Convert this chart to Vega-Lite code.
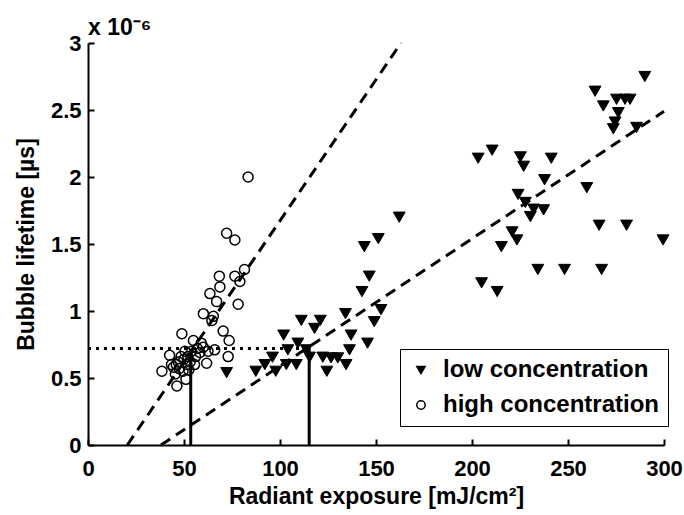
{
  "$schema": "https://vega.github.io/schema/vega-lite/v6.json",
  "width": 576,
  "height": 402,
  "autosize": {"type": "none"},
  "padding": {"left": 88, "top": 43, "right": 20, "bottom": 70},
  "background": "white",
  "config": {
    "view": {"stroke": null},
    "font": "Liberation Sans",
    "axis": {
      "grid": false,
      "domainColor": "black",
      "domainWidth": 2,
      "tickColor": "black",
      "tickWidth": 2,
      "tickSize": -6,
      "labelFont": "Liberation Sans",
      "labelFontSize": 22,
      "labelFontWeight": "bold",
      "labelColor": "black",
      "labelFlush": false,
      "labelOverlap": false,
      "titleFont": "Liberation Sans",
      "titleFontSize": 23,
      "titleFontWeight": "bold",
      "titleColor": "black"
    }
  },
  "title": {
    "text": "x 10⁻⁶",
    "anchor": "start",
    "frame": "group",
    "font": "Liberation Sans",
    "fontSize": 23,
    "fontWeight": "bold",
    "color": "black",
    "offset": -8
  },
  "datasets": {
    "points": [
      {"x": 38.5, "y": 0.55, "series": "high concentration"},
      {"x": 42.5, "y": 0.67, "series": "high concentration"},
      {"x": 43.5, "y": 0.6, "series": "high concentration"},
      {"x": 44.5, "y": 0.58, "series": "high concentration"},
      {"x": 45.5, "y": 0.53, "series": "high concentration"},
      {"x": 46, "y": 0.6, "series": "high concentration"},
      {"x": 46.3, "y": 0.44, "series": "high concentration"},
      {"x": 47, "y": 0.62, "series": "high concentration"},
      {"x": 47.5, "y": 0.57, "series": "high concentration"},
      {"x": 48.5, "y": 0.66, "series": "high concentration"},
      {"x": 48.9, "y": 0.83, "series": "high concentration"},
      {"x": 49.5, "y": 0.55, "series": "high concentration"},
      {"x": 50, "y": 0.64, "series": "high concentration"},
      {"x": 50.5, "y": 0.7, "series": "high concentration"},
      {"x": 51, "y": 0.49, "series": "high concentration"},
      {"x": 51.5, "y": 0.6, "series": "high concentration"},
      {"x": 52, "y": 0.66, "series": "high concentration"},
      {"x": 52.5, "y": 0.56, "series": "high concentration"},
      {"x": 53.2, "y": 0.62, "series": "high concentration"},
      {"x": 54, "y": 0.7, "series": "high concentration"},
      {"x": 54.9, "y": 0.78, "series": "high concentration"},
      {"x": 55.5, "y": 0.6, "series": "high concentration"},
      {"x": 56, "y": 0.66, "series": "high concentration"},
      {"x": 57, "y": 0.72, "series": "high concentration"},
      {"x": 58.3, "y": 0.69, "series": "high concentration"},
      {"x": 59, "y": 0.76, "series": "high concentration"},
      {"x": 60, "y": 0.73, "series": "high concentration"},
      {"x": 60.1, "y": 0.98, "series": "high concentration"},
      {"x": 61.8, "y": 0.61, "series": "high concentration"},
      {"x": 62.5, "y": 0.7, "series": "high concentration"},
      {"x": 63.5, "y": 1.13, "series": "high concentration"},
      {"x": 64.5, "y": 0.93, "series": "high concentration"},
      {"x": 65.3, "y": 0.96, "series": "high concentration"},
      {"x": 66, "y": 0.71, "series": "high concentration"},
      {"x": 67, "y": 1.07, "series": "high concentration"},
      {"x": 68.4, "y": 1.26, "series": "high concentration"},
      {"x": 68.7, "y": 1.18, "series": "high concentration"},
      {"x": 70.4, "y": 0.85, "series": "high concentration"},
      {"x": 73, "y": 0.66, "series": "high concentration"},
      {"x": 73.5, "y": 0.78, "series": "high concentration"},
      {"x": 72.2, "y": 1.58, "series": "high concentration"},
      {"x": 76.5, "y": 1.53, "series": "high concentration"},
      {"x": 76.5, "y": 1.26, "series": "high concentration"},
      {"x": 78.2, "y": 1.05, "series": "high concentration"},
      {"x": 79.1, "y": 1.22, "series": "high concentration"},
      {"x": 81.5, "y": 1.31, "series": "high concentration"},
      {"x": 83.4, "y": 2.0, "series": "high concentration"},
      {"x": 72.2, "y": 0.54, "series": "low concentration"},
      {"x": 87.4, "y": 0.55, "series": "low concentration"},
      {"x": 92.1, "y": 0.6, "series": "low concentration"},
      {"x": 96.1, "y": 0.655, "series": "low concentration"},
      {"x": 97.8, "y": 0.55, "series": "low concentration"},
      {"x": 101.9, "y": 0.82, "series": "low concentration"},
      {"x": 103.3, "y": 0.6, "series": "low concentration"},
      {"x": 104.1, "y": 0.71, "series": "low concentration"},
      {"x": 108.5, "y": 0.6, "series": "low concentration"},
      {"x": 109.3, "y": 0.76, "series": "low concentration"},
      {"x": 111.1, "y": 0.93, "series": "low concentration"},
      {"x": 113.7, "y": 0.71, "series": "low concentration"},
      {"x": 115.4, "y": 0.655, "series": "low concentration"},
      {"x": 118, "y": 0.87, "series": "low concentration"},
      {"x": 121, "y": 0.93, "series": "low concentration"},
      {"x": 122.3, "y": 0.655, "series": "low concentration"},
      {"x": 124.4, "y": 0.55, "series": "low concentration"},
      {"x": 126.6, "y": 0.65, "series": "low concentration"},
      {"x": 130.1, "y": 0.65, "series": "low concentration"},
      {"x": 134.4, "y": 0.6, "series": "low concentration"},
      {"x": 136.2, "y": 0.71, "series": "low concentration"},
      {"x": 134.1, "y": 0.98, "series": "low concentration"},
      {"x": 137, "y": 0.82, "series": "low concentration"},
      {"x": 145.6, "y": 0.76, "series": "low concentration"},
      {"x": 149.1, "y": 0.92, "series": "low concentration"},
      {"x": 152.6, "y": 1.01, "series": "low concentration"},
      {"x": 142.7, "y": 1.145, "series": "low concentration"},
      {"x": 146.5, "y": 1.26, "series": "low concentration"},
      {"x": 143.9, "y": 1.48, "series": "low concentration"},
      {"x": 151.2, "y": 1.54, "series": "low concentration"},
      {"x": 162.1, "y": 1.7, "series": "low concentration"},
      {"x": 203.2, "y": 2.14, "series": "low concentration"},
      {"x": 210.5, "y": 2.2, "series": "low concentration"},
      {"x": 205, "y": 1.21, "series": "low concentration"},
      {"x": 213.1, "y": 1.145, "series": "low concentration"},
      {"x": 215.3, "y": 1.48, "series": "low concentration"},
      {"x": 220.9, "y": 1.59, "series": "low concentration"},
      {"x": 223.4, "y": 1.53, "series": "low concentration"},
      {"x": 224, "y": 1.87, "series": "low concentration"},
      {"x": 225.2, "y": 2.15, "series": "low concentration"},
      {"x": 226.9, "y": 2.08, "series": "low concentration"},
      {"x": 227.8, "y": 1.81, "series": "low concentration"},
      {"x": 230.4, "y": 1.705, "series": "low concentration"},
      {"x": 232.1, "y": 1.76, "series": "low concentration"},
      {"x": 234.3, "y": 1.31, "series": "low concentration"},
      {"x": 237.3, "y": 1.755, "series": "low concentration"},
      {"x": 237.8, "y": 1.98, "series": "low concentration"},
      {"x": 241.3, "y": 2.14, "series": "low concentration"},
      {"x": 248.2, "y": 1.31, "series": "low concentration"},
      {"x": 259.8, "y": 1.92, "series": "low concentration"},
      {"x": 264.1, "y": 2.64, "series": "low concentration"},
      {"x": 266.2, "y": 1.64, "series": "low concentration"},
      {"x": 267.5, "y": 1.31, "series": "low concentration"},
      {"x": 268.4, "y": 2.53, "series": "low concentration"},
      {"x": 273.6, "y": 2.36, "series": "low concentration"},
      {"x": 274.5, "y": 2.41, "series": "low concentration"},
      {"x": 275.3, "y": 2.58, "series": "low concentration"},
      {"x": 276.2, "y": 2.48, "series": "low concentration"},
      {"x": 279.7, "y": 2.58, "series": "low concentration"},
      {"x": 280.5, "y": 1.64, "series": "low concentration"},
      {"x": 282.3, "y": 2.58, "series": "low concentration"},
      {"x": 285.7, "y": 2.37, "series": "low concentration"},
      {"x": 290, "y": 2.75, "series": "low concentration"},
      {"x": 299.5, "y": 1.53, "series": "low concentration"}
    ],
    "fits": [
      {"line": "high", "x": 20.5, "y": 0},
      {"line": "high", "x": 163, "y": 3},
      {"line": "low", "x": 38, "y": 0},
      {"line": "low", "x": 300, "y": 2.49}
    ],
    "threshold": [
      {"x": 0, "y": 0.72},
      {"x": 115, "y": 0.72}
    ],
    "markers": [
      {"x": 53.5, "y": 0, "y2": 0.72},
      {"x": 115.2, "y": 0, "y2": 0.72}
    ]
  },
  "layer": [
    {
      "data": {"name": "markers"},
      "mark": {"type": "rule", "color": "black", "strokeWidth": 3},
      "encoding": {
        "x": {"field": "x", "type": "quantitative", "scale": {"domain": [0, 300], "nice": false},
          "axis": {"values": [0, 50, 100, 150, 200, 250, 300], "title": "Radiant exposure [mJ/cm²]", "labelPadding": 19, "titlePadding": 6}},
        "y": {"field": "y", "type": "quantitative", "scale": {"domain": [0, 3], "nice": false},
          "axis": {"values": [0, 0.5, 1, 1.5, 2, 2.5, 3], "format": "~g", "title": "Bubble lifetime [µs]", "labelPadding": 13, "titlePadding": 12}},
        "y2": {"field": "y2"}
      }
    },
    {
      "data": {"name": "threshold"},
      "mark": {"type": "line", "color": "black", "strokeWidth": 3, "strokeDash": [3, 5]},
      "encoding": {
        "x": {"field": "x", "type": "quantitative"},
        "y": {"field": "y", "type": "quantitative"}
      }
    },
    {
      "data": {"name": "fits"},
      "mark": {"type": "line", "color": "black", "strokeWidth": 3, "strokeDash": [11, 7]},
      "encoding": {
        "x": {"field": "x", "type": "quantitative"},
        "y": {"field": "y", "type": "quantitative"},
        "detail": {"field": "line", "type": "nominal"}
      }
    },
    {
      "data": {"name": "points"},
      "transform": [{"filter": "datum.series === 'low concentration'"}],
      "mark": {"type": "point", "strokeWidth": 1, "opacity": 1, "size": 140},
      "encoding": {
        "x": {"field": "x", "type": "quantitative"},
        "y": {"field": "y", "type": "quantitative"},
        "shape": {
          "field": "series", "type": "nominal",
          "scale": {"domain": ["low concentration", "high concentration"], "range": ["triangle-down", "circle"]},
          "legend": {
            "title": null, "orient": "none", "legendX": 312, "legendY": 306,
            "strokeColor": "black", "fillColor": "white", "padding": 9,
            "labelFontSize": 24, "labelFontWeight": "bold", "labelColor": "black", "labelFont": "Liberation Sans",
            "labelLimit": 400,
            "symbolSize": 70, "symbolStrokeWidth": 1.5, "rowPadding": 11, "labelOffset": 10
          }
        },
        "fill": {
          "field": "series", "type": "nominal",
          "scale": {"domain": ["low concentration", "high concentration"], "range": ["black", "transparent"]}
        },
        "stroke": {
          "field": "series", "type": "nominal",
          "scale": {"domain": ["low concentration", "high concentration"], "range": ["black", "black"]}
        }
      }
    },
    {
      "data": {"name": "points"},
      "transform": [{"filter": "datum.series === 'high concentration'"}],
      "mark": {"type": "point", "strokeWidth": 1.5, "opacity": 1, "size": 100},
      "encoding": {
        "x": {"field": "x", "type": "quantitative"},
        "y": {"field": "y", "type": "quantitative"},
        "shape": {"field": "series", "type": "nominal"},
        "fill": {"field": "series", "type": "nominal"},
        "stroke": {"field": "series", "type": "nominal"}
      }
    }
  ]
}
